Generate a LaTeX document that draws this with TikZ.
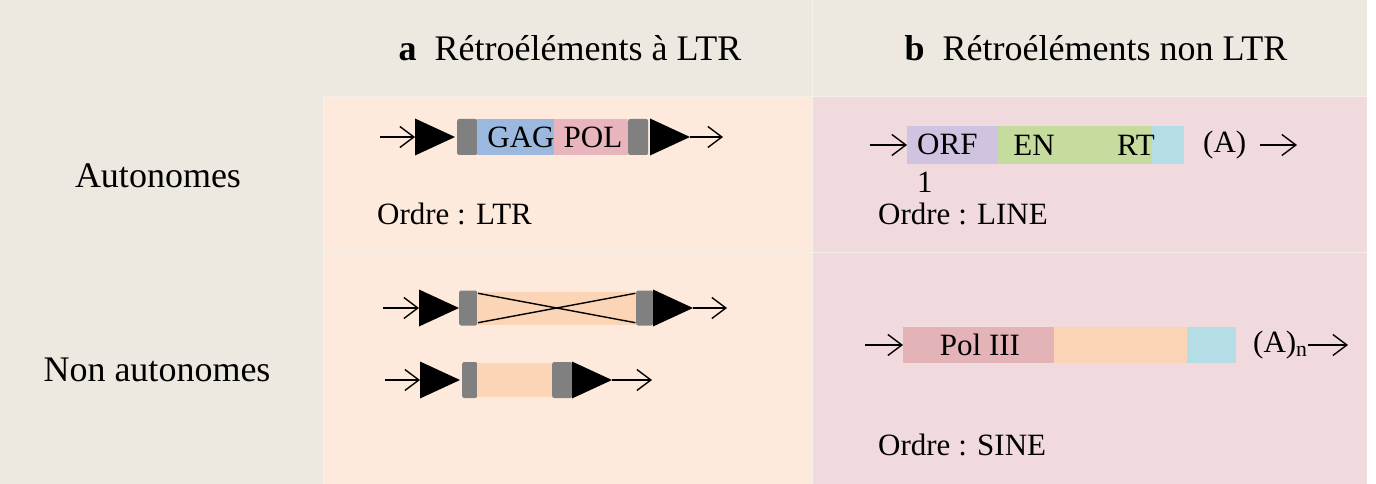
\documentclass[tikz,border=0pt]{standalone}
\usepackage{fontspec}
\setmainfont{Liberation Serif}
\usetikzlibrary{arrows.meta,calc}
\definecolor{bgbeige}{HTML}{EDE9E0}
\definecolor{cellpeach}{HTML}{FDEADC}
\definecolor{cellpink}{HTML}{F1DADD}
\definecolor{sepline}{HTML}{F6EFEA}
\definecolor{ltrgray}{HTML}{808080}
\definecolor{gagblue}{HTML}{9BB8DE}
\definecolor{polpink}{HTML}{E8B5BC}
\definecolor{orfpurple}{HTML}{CFC3E0}
\definecolor{engreen}{HTML}{C5DC9E}
\definecolor{tailcyan}{HTML}{B5DDE6}
\definecolor{polIIIpink}{HTML}{E4B3B8}
\definecolor{bodypeach}{HTML}{FBD5B6}
\tikzset{
  lbl/.style={font=\fontsize{36}{43}\selectfont, inner sep=0pt},
  txt/.style={font=\fontsize{31}{38}\selectfont, inner sep=0pt},
  seg/.style={draw=none, inner sep=0pt, anchor=west, font=\fontsize{31}{38}\selectfont},
  ltrbox/.style={seg, fill=ltrgray, rounded corners=2pt},
  openarr/.style={line width=1.4pt, -{Straight Barb[length=14pt,width=21pt,line width=1.4pt]}},
  cross/.style={line width=1.4pt}
}
\newcommand{\ltrtri}[2]{\fill[black] (#1,#2-18.5) -- (#1+40,#2) -- (#1,#2+18.5) -- cycle;}
\begin{document}
\begin{tikzpicture}[x=1pt,y=-1pt]
\useasboundingbox (0,0) rectangle (1376,484);
\fill[white] (0,0) rectangle (1376,484);
\fill[bgbeige] (0,0) rectangle (1367,484);
\fill[cellpeach] (323,97) rectangle (812,484);
\fill[cellpink] (812,97) rectangle (1367,484);
\draw[sepline, line width=1pt] (323,252) -- (1367,252);
\draw[sepline, line width=1pt] (323,97) -- (1367,97);
\draw[sepline, line width=1pt] (323,97) -- (323,484);
\draw[sepline, line width=1pt] (812,0) -- (812,484);

% headers
\node[lbl] (ha) at (570,48) {\textbf{a}\ \ Rétroéléments à LTR};
\node[lbl] (hb) at (1096,48) {\textbf{b}\ \ Rétroéléments non LTR};
\node[lbl] (ra) at (158,176) {Autonomes};
\node[lbl] (rb) at (157,370) {Non autonomes};

% row 1 a : LTR
\coordinate (a1s) at (380,137);
\coordinate (a1t) at (415,137);
\ltrtri{415}{137}
\node[ltrbox, minimum width=20pt, minimum height=36pt] (a1g1) at (457,137) {};
\node[seg, fill=gagblue, minimum width=77pt, minimum height=36pt] (gag) at (477,137) {};
\node[seg, fill=polpink, minimum width=74pt, minimum height=36pt] (pol) at (554,137) {};
\node[txt] (gagtxt) at (521,137) {GAG};
\node[txt] (poltxt) at (593,137) {POL};
\node[ltrbox, minimum width=20pt, minimum height=36pt] (a1g2) at (628,137) {};
\ltrtri{650}{137}
\coordinate (a1r) at (690,137);
\coordinate (a1e) at (723,137);
\draw[openarr] (a1s) -- (a1t);
\draw[openarr] (a1r) -- (a1e);
\node[txt, anchor=west] (ordltr) at (377,214) {Ordre : LTR};

% row 1 b : LINE
\coordinate (b1s) at (870,145);
\node[seg, fill=orfpurple, minimum width=91pt, minimum height=37pt] (orf) at (907,145) {};
\node[seg, fill=engreen, minimum width=154pt, minimum height=37pt] (en) at (998,145) {};
\node[seg, fill=tailcyan, minimum width=32pt, minimum height=37pt] (cy1) at (1152,145) {};
\node[txt, anchor=north west, align=left] (orftxt) at (917,134) {ORF\\1};
\node[txt] (entxt) at (1034,145) {EN};
\node[txt] (rttxt) at (1136,145) {RT};
\node[txt, anchor=west] (polya) at (1203,145) {(A)};
\coordinate (b1a) at (1260,145);
\coordinate (b1e) at (1297,145);
\draw[openarr] (b1s) -- (orf.west);
\draw[openarr] (b1a) -- (b1e);
\node[txt, anchor=west] (ordline) at (878,214) {Ordre : LINE};

% row 2 a : non autonomous LTR
\coordinate (a2s) at (383,308);
\coordinate (a2t) at (419,308);
\ltrtri{419}{308}
\node[ltrbox, minimum width=18pt, minimum height=35pt] (a2g1) at (459,308) {};
\node[seg, fill=bodypeach, minimum width=159pt, minimum height=33pt] (a2body) at (477,308) {};
\node[ltrbox, minimum width=17pt, minimum height=35pt] (a2g2) at (636,308) {};
\ltrtri{653}{308}
\coordinate (a2r) at (693,308);
\coordinate (a2e) at (727,308);
\draw[openarr] (a2s) -- (a2t);
\draw[openarr] (a2r) -- (a2e);
\draw[cross] ($(a2body.north west)+(1,2)$) -- ($(a2body.south east)+(-1,-2)$);
\draw[cross] ($(a2body.south west)+(1,-2)$) -- ($(a2body.north east)+(-1,2)$);

\coordinate (a3s) at (385,380);
\coordinate (a3t) at (420,380);
\ltrtri{420}{380}
\node[ltrbox, minimum width=15pt, minimum height=36pt] (a3g1) at (462,380) {};
\node[seg, fill=bodypeach, minimum width=75pt, minimum height=34pt] (a3body) at (477,380) {};
\node[ltrbox, minimum width=20pt, minimum height=36pt] (a3g2) at (552,380) {};
\ltrtri{572}{380}
\coordinate (a3r) at (612,380);
\coordinate (a3e) at (652,380);
\draw[openarr] (a3s) -- (a3t);
\draw[openarr] (a3r) -- (a3e);

% row 2 b : SINE
\coordinate (b2s) at (865,345);
\node[seg, fill=polIIIpink, minimum width=151pt, minimum height=36pt] (pol3) at (903,345) {};
\node[txt] (pol3txt) at (980,345) {Pol III};
\node[seg, fill=bodypeach, minimum width=133pt, minimum height=36pt] (s2body) at (1054,345) {};
\node[seg, fill=tailcyan, minimum width=49pt, minimum height=36pt] (cy2) at (1187,345) {};
\node[txt, anchor=west] (polyan) at (1253,345) {(A)\textsubscript{n}};
\coordinate (b2e) at (1348,345);
\draw[openarr] (b2s) -- (pol3.west);
\draw[openarr] (polyan.east) -- (b2e);
\node[txt, anchor=west] (ordsine) at (878,445) {Ordre : SINE};
\end{tikzpicture}
\end{document}
